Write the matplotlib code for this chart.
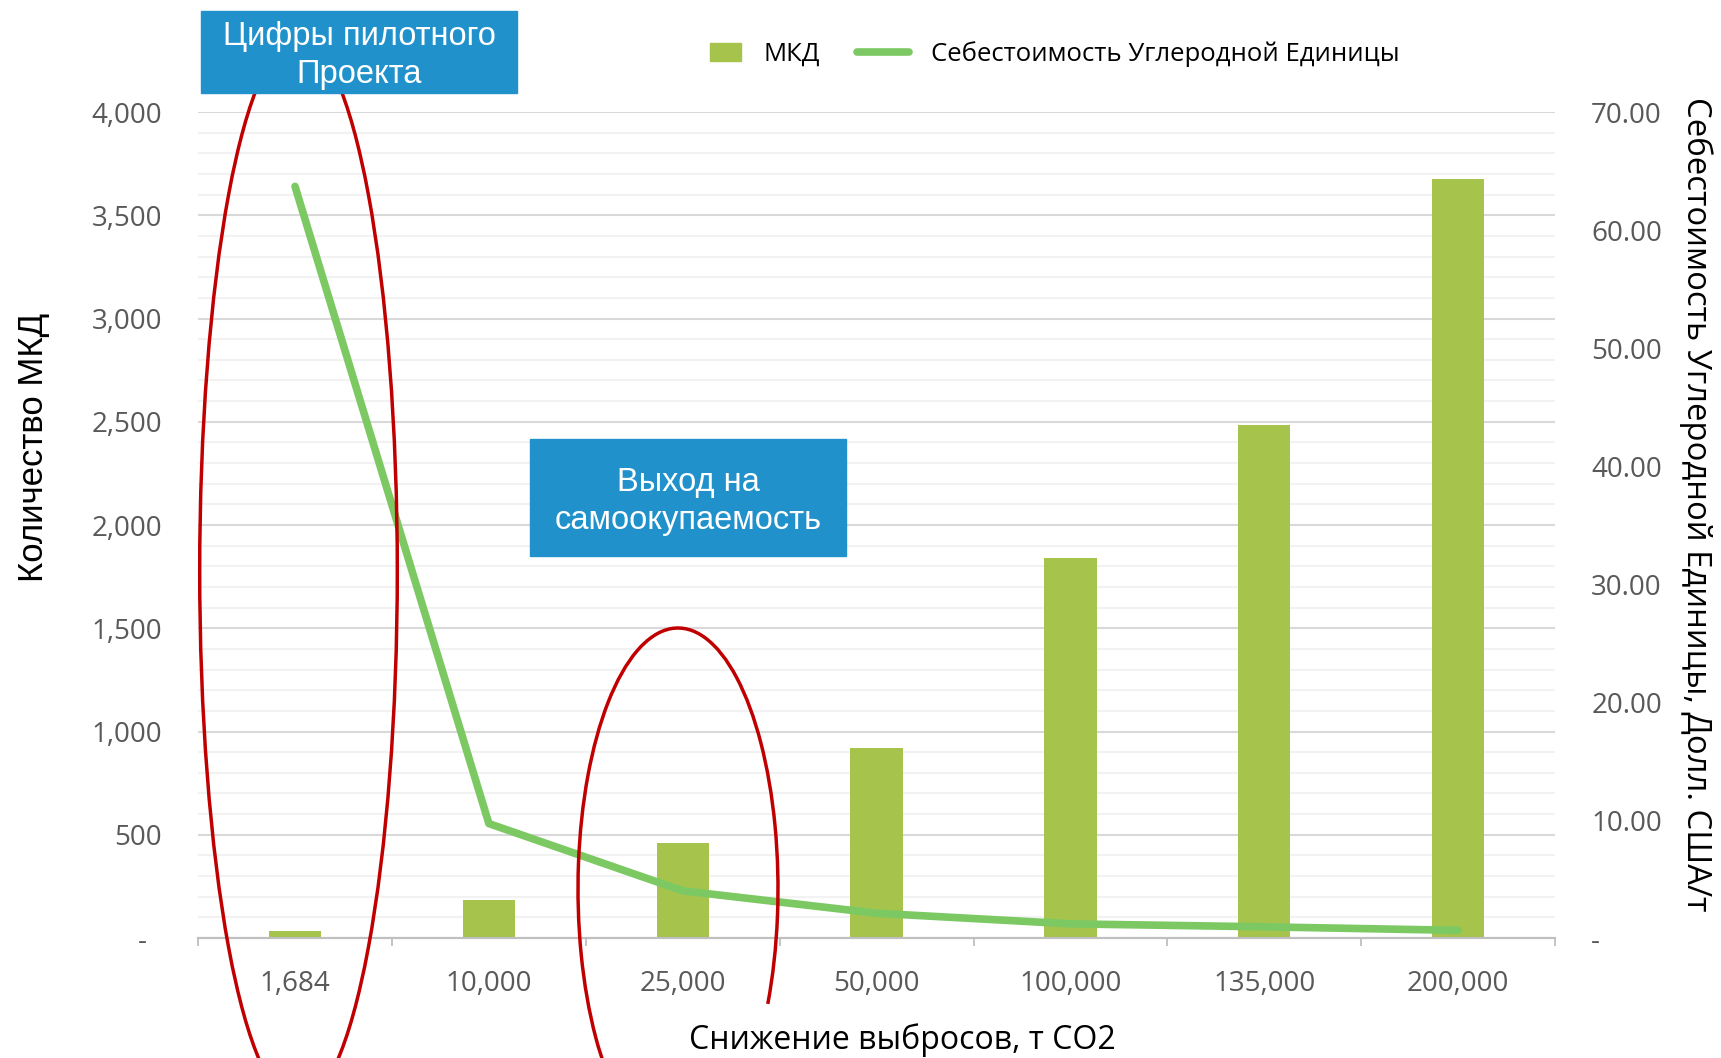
import matplotlib
matplotlib.use("Agg")
import matplotlib.pyplot as plt
from matplotlib.patches import Ellipse, Arc, Rectangle
from matplotlib.lines import Line2D
from matplotlib.legend_handler import HandlerPatch
from matplotlib.ticker import MultipleLocator, FuncFormatter, FixedLocator

# -----------------------------
# Data
# -----------------------------

categories = ["1,684", "10,000", "25,000", "50,000", "100,000", "135,000", "200,000"]

mkd_counts = [32, 186, 462, 919, 1838, 2486, 3676]

unit_cost = [63.7, 9.7, 4.0, 2.1, 1.2, 0.95, 0.65]

bar_color = "#A6C34C"
line_color = "#7CC964"
box_color = "#2191CB"
ring_color = "#C00000"
tick_color = "#595959"

tick_font = ["Open Sans", "DejaVu Sans"]
arial = ["Liberation Sans", "DejaVu Sans"]

fig = plt.figure(figsize=(17.21, 10.58), dpi=100)

ax = fig.add_axes([0.1151, 0.1134, 0.7885, 0.7807])
ax2 = ax.twinx()

x = list(range(len(categories)))

ax.bar(x, mkd_counts, width=0.27, color=bar_color, zorder=2)
ax2.plot(x, unit_cost, color=line_color, linewidth=5.5, solid_capstyle="round", zorder=3)

ax.set_xlim(-0.5, len(categories) - 0.5)
ax.set_ylim(0, 4000)
ax2.set_ylim(0, 70)

# grid
ax.set_axisbelow(True)
ax.yaxis.set_major_locator(MultipleLocator(500))
ax.yaxis.set_minor_locator(MultipleLocator(100))
ax.grid(axis="y", which="major", color="#D9D9D9", linewidth=1.5)
ax.grid(axis="y", which="minor", color="#F2F2F2", linewidth=1.5)
ax.tick_params(axis="y", which="both", length=0)

ax2.yaxis.set_major_locator(MultipleLocator(10))
ax2.tick_params(axis="y", length=0)

# tick labels
ax.yaxis.set_major_formatter(FuncFormatter(lambda v, p: "-  " if v == 0 else f"{v:,.0f}"))
ax2.yaxis.set_major_formatter(FuncFormatter(lambda v, p: "-" if v == 0 else f"{v:.2f}"))

ax.set_xticks(x)
ax.set_xticklabels(categories)
ax.xaxis.set_minor_locator(FixedLocator([i - 0.5 for i in range(len(categories) + 1)]))
ax.tick_params(axis="x", which="major", length=0, pad=23)
ax.tick_params(axis="x", which="minor", length=6, width=1.3, color="#BFBFBF")

for lab in ax.get_xticklabels() + ax.get_yticklabels() + ax2.get_yticklabels():
    lab.set_family(tick_font)
    lab.set_fontsize(20)
    lab.set_color(tick_color)

ax.tick_params(axis="y", pad=26)
ax2.tick_params(axis="y", pad=26)

for a in (ax, ax2):
    for side in ("left", "right", "top"):
        a.spines[side].set_visible(False)
    a.spines["bottom"].set_color("#BFBFBF")
    a.spines["bottom"].set_linewidth(1.5)

# axis labels
ax.set_ylabel("Количество МКД", family=arial, fontsize=25, color="black")
ax.yaxis.set_label_coords(-0.1216, 0.594)
ax.yaxis.label.set_va("center")

ax2.set_ylabel("Себестоимость Углеродной Единицы, Долл. США/т",
               family=tick_font, fontsize=23.7, color="black", rotation=-90)
ax2.yaxis.set_label_coords(1.104, 0.525)
ax2.yaxis.label.set_va("center")

ax.set_xlabel("Снижение выбросов, т CO2", family=tick_font, fontsize=23, color="black")
ax.xaxis.set_label_coords(0.519, -0.124)
ax.xaxis.label.set_va("center")


# legend: small flat rectangle for the bars, long line for the cost
def small_rect(legend, orig_handle, xdescent, ydescent, width, height, fontsize):
    w, h = 22.3, 13.0
    return Rectangle((-xdescent + width - w, -ydescent + (height - h) / 2), w, h)


handles = [
    Rectangle((0, 0), 1, 1, color=bar_color),
    Line2D([0], [0], color=line_color, linewidth=5.5, solid_capstyle="round"),
]
fig.legend(handles, ["МКД", "Себестоимость Углеродной Единицы"],
           loc="center", bbox_to_anchor=(0.6070, 0.949), ncol=2, frameon=False,
           prop={"family": tick_font, "size": 18.5},
           handler_map={Rectangle: HandlerPatch(patch_func=small_rect)},
           handlelength=2.0, handleheight=0.8, columnspacing=1.47, handletextpad=0.85)

# -----------------------------
# Annotations (figure pixel space)
# -----------------------------

over = fig.add_axes([0, 0, 1, 1])
over.set_xlim(0, 1721)
over.set_ylim(0, 1058)
over.axis("off")

over.add_patch(Ellipse((298.5, 1058 - 571), 197.6, 1065,
                       fill=False, edgecolor=ring_color, linewidth=2.5))
over.add_patch(Arc((678, 1058 - 889), 200, 522, theta1=-52, theta2=280,
                   edgecolor=ring_color, linewidth=2.5))

over.add_patch(Rectangle((201, 1058 - 93), 316, 82, color=box_color, zorder=5))
over.text(359, 1058 - 55.5, "Цифры пилотного\nПроекта", ha="center", va="center",
          color="white", family=arial, fontsize=23.5, linespacing=1.3, zorder=6)

over.add_patch(Rectangle((530, 1058 - 556), 316, 117, color=box_color, zorder=5))
over.text(688, 1058 - 501.5, "Выход на\nсамоокупаемость", ha="center", va="center",
          color="white", family=arial, fontsize=23.5, linespacing=1.3, zorder=6)

fig.savefig("out.png", dpi=100)
